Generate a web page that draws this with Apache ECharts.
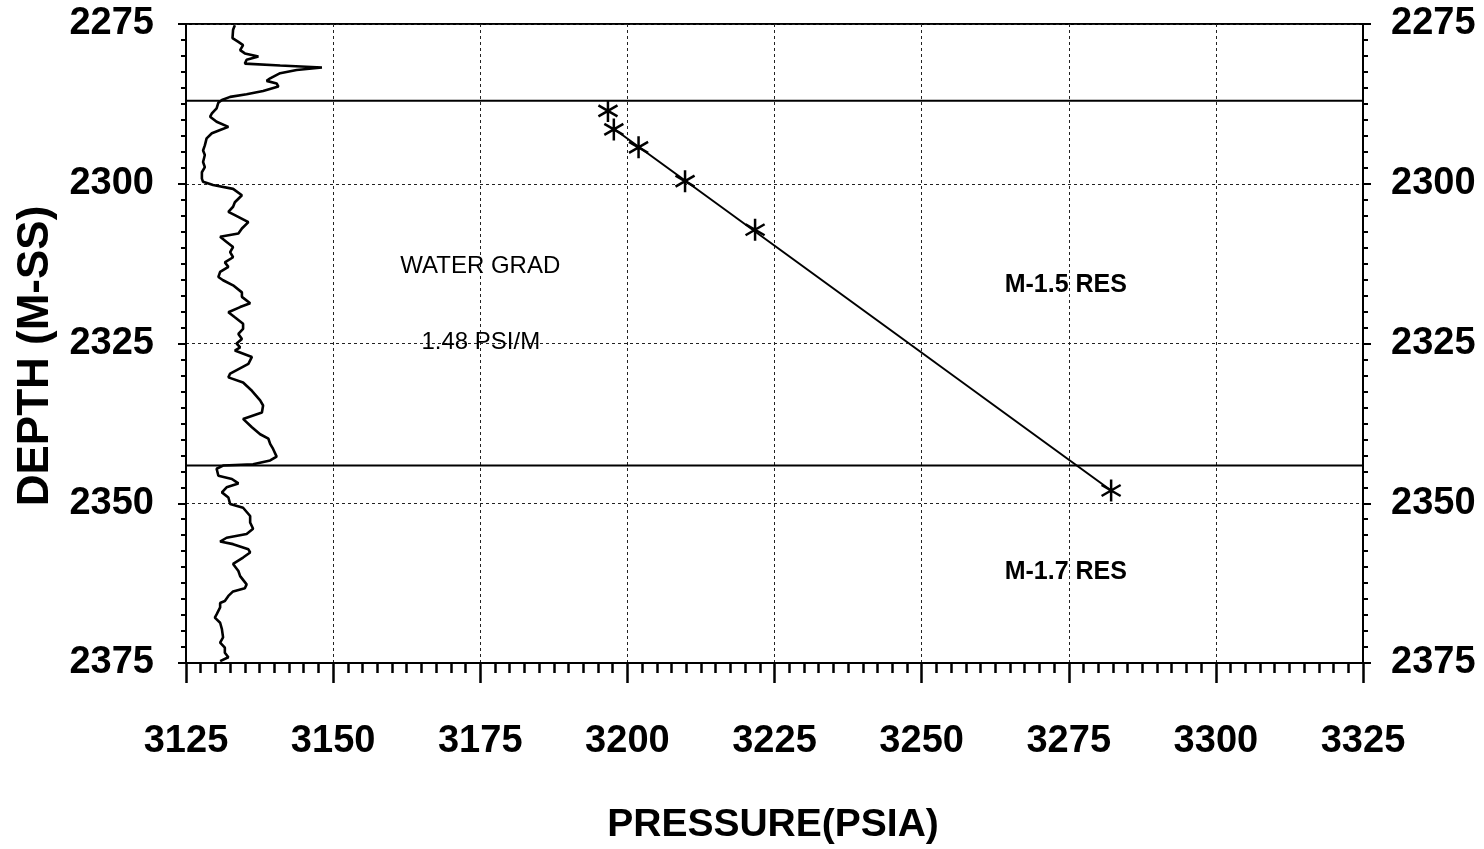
<!DOCTYPE html>
<html>
<head>
<meta charset="utf-8">
<script src="https://cdn.jsdelivr.net/npm/echarts@6/dist/echarts.min.js"></script>
<style>
html,body{margin:0;padding:0;background:#fff;}
#chart{width:1484px;height:849px;}
</style>
</head>
<body>
<div id="chart"></div>
<script>
// ---- DATA ----
const xRange = [3125, 3325];
const yRange = [2275, 2375];
const tickStep = 25;
const xAxisTitle = 'PRESSURE(PSIA)';
const yAxisTitle = 'DEPTH (M-SS)';

// RFT pressure points (psia, m-ss)
const rftPressure = [3196.7, 3197.7, 3201.9, 3209.8, 3221.7, 3282.2];
const rftDepth    = [2288.6, 2291.5, 2294.3, 2299.6, 2307.2, 2348.0];

// water gradient line end points
const gradPressure = [3197.7, 3282.2];
const gradDepth    = [2291.4, 2348.0];

// reservoir boundary depths
const boundaryDepths = [2287.0, 2344.1];

// well-log curve drawn along the left edge (pressure-scale position, depth)
const logX = [3133.3,3133.0,3132.9,3133.9,3134.7,3134.2,3135.0,3137.3,3135.3,3135.0,3141.0,3148.1,3143.8,3141.0,3139.3,3138.7,3140.4,3140.7,3138.1,3135.3,3132.5,3131.1,3130.5,3130.2,3129.4,3129.1,3130.2,3132.2,3130.8,3129.4,3128.5,3128.2,3127.9,3128.2,3127.9,3128.2,3127.7,3127.7,3127.9,3129.6,3133.0,3134.5,3133.3,3133.0,3132.2,3133.3,3135.6,3134.5,3133.9,3130.8,3131.9,3133.0,3132.5,3133.0,3131.6,3132.2,3130.8,3130.5,3131.3,3133.0,3134.5,3134.5,3135.9,3134.2,3132.2,3133.3,3134.7,3134.7,3133.9,3134.5,3133.6,3134.2,3133.3,3136.2,3135.6,3132.5,3132.2,3134.7,3136.2,3137.6,3138.1,3137.9,3134.7,3134.5,3136.2,3137.6,3139.0,3139.3,3139.8,3140.4,3139.3,3136.4,3131.3,3130.2,3130.5,3132.8,3133.9,3131.9,3131.1,3132.2,3132.5,3134.7,3135.9,3135.9,3136.4,3135.3,3131.9,3130.8,3133.0,3135.6,3135.9,3134.7,3133.0,3133.9,3134.2,3135.3,3135.0,3133.0,3132.2,3131.6,3130.8,3130.8,3130.2,3129.9,3130.8,3131.1,3131.3,3130.8,3131.6,3131.6,3132.2,3130.8];
const logDepth = [2275.2,2275.9,2277.2,2277.8,2278.3,2279.1,2279.6,2280.1,2280.6,2281.2,2281.5,2281.8,2282.2,2282.7,2283.5,2283.9,2284.3,2284.8,2285.5,2286.0,2286.4,2286.9,2287.3,2288.2,2289.0,2289.5,2290.3,2291.1,2291.6,2292.1,2292.9,2294.0,2294.8,2295.5,2296.6,2297.4,2298.2,2299.2,2299.7,2300.2,2300.8,2301.8,2302.9,2303.6,2304.4,2304.9,2306.0,2307.0,2307.8,2308.3,2309.1,2309.9,2310.7,2311.5,2312.3,2313.0,2313.8,2314.6,2315.1,2315.9,2317.0,2317.7,2318.7,2319.3,2320.1,2320.9,2321.9,2322.7,2323.5,2324.3,2325.0,2325.6,2326.1,2327.1,2328.2,2329.7,2330.3,2331.1,2332.4,2333.9,2334.7,2335.8,2336.8,2337.1,2338.1,2339.2,2339.9,2340.7,2341.5,2342.7,2343.3,2343.9,2344.1,2344.6,2345.7,2346.2,2346.9,2347.5,2348.3,2349.1,2350.1,2350.7,2352.0,2353.0,2354.0,2354.8,2355.4,2356.0,2356.4,2357.2,2357.7,2358.5,2359.5,2360.6,2361.4,2362.7,2363.3,2363.8,2364.5,2365.3,2365.6,2366.3,2367.4,2367.9,2368.7,2369.7,2371.0,2371.8,2372.6,2373.4,2374.1,2374.7];

// text annotations
const noteText     = ['WATER GRAD', '1.48 PSI/M', 'M-1.5 RES', 'M-1.7 RES'];
const notePressure = [3175.0, 3175.1, 3274.5, 3274.5];
const noteDepth    = [2313.0, 2324.9, 2315.8, 2360.7];
const noteBold     = [false, false, true, true];

// ---- CHART ----
const zip = (a, b) => a.map((v, i) => [v, b[i]]);
const chart = echarts.init(document.getElementById('chart'), null, {renderer: 'canvas'});

const FONT = "'Liberation Sans', Arial, sans-serif";
const tickFont = {fontFamily: FONT, fontWeight: 'bold', fontSize: 38, color: '#000', formatter: v => String(v)};
const gridLine = {show: true, lineStyle: {color: '#222', width: 1, type: [3, 3]}};
const asterisk = 'path://M0,-10L0,10M-8.66,-5L8.66,5M-8.66,5L8.66,-5';

const yAxisCommon = {
  type: 'value', inverse: true, min: yRange[0], max: yRange[1], interval: tickStep,
  axisLine: {show: true, lineStyle: {color: '#000', width: 2}},
  axisTick: {show: true, length: 8, lineStyle: {color: '#000', width: 2}},
  minorTick: {show: true, splitNumber: 10, length: 5, lineStyle: {color: '#000', width: 2}},
  splitLine: {show: false}
};

const seriesList = [
  {
    type: 'line', name: 'log', data: zip(logX, logDepth), showSymbol: false, symbol: 'none',
    lineStyle: {color: '#000', width: 2.6}, silent: true, z: 3
  },
  ...boundaryDepths.map(d => ({
    type: 'line', data: [[xRange[0], d], [xRange[1], d]], showSymbol: false, symbol: 'none',
    lineStyle: {color: '#000', width: 2}, silent: true, z: 4
  })),
  {
    type: 'line', name: 'gradient', data: zip(gradPressure, gradDepth), showSymbol: false, symbol: 'none',
    lineStyle: {color: '#000', width: 2}, silent: true, z: 5
  },
  {
    type: 'scatter', name: 'rft', data: zip(rftPressure, rftDepth), symbol: asterisk, symbolSize: 22,
    symbolKeepAspect: true,
    itemStyle: {color: 'rgba(0,0,0,0)', borderColor: '#000', borderWidth: 2.5, opacity: 1}, z: 6
  },
  {
    type: 'scatter', name: 'notes', symbolSize: 0, silent: true, z: 7,
    itemStyle: {opacity: 1},
    data: noteText.map((t, i) => ({
      value: [notePressure[i], noteDepth[i]],
      label: {show: true, position: 'inside', formatter: t, fontFamily: FONT,
        fontWeight: noteBold[i] ? 'bold' : 'normal', fontSize: noteBold[i] ? 25 : 24,
        color: '#000', opacity: 1, textBorderWidth: 0}
    }))
  }
];

chart.setOption({
  animation: false,
  backgroundColor: '#fff',
  grid: {left: 186, right: 121, top: 24, bottom: 186, containLabel: false, outerBoundsMode: 'none',
    show: true, borderColor: '#000', borderWidth: 2, backgroundColor: 'transparent'},
  xAxis: {
    type: 'value', min: xRange[0], max: xRange[1], interval: tickStep, position: 'bottom',
    axisLine: {show: true, onZero: false, lineStyle: {color: '#000', width: 2}},
    axisTick: {show: true, length: 20, lineStyle: {color: '#000', width: 2.5}},
    minorTick: {show: true, splitNumber: 10, length: 10, lineStyle: {color: '#000', width: 2.5}},
    axisLabel: Object.assign({margin: 60}, tickFont),
    splitLine: gridLine
  },
  yAxis: [
    Object.assign({}, yAxisCommon, {position: 'left', splitLine: gridLine,
      axisLabel: Object.assign({margin: 32}, tickFont)}),
    Object.assign({}, yAxisCommon, {position: 'right',
      axisLabel: Object.assign({margin: 28}, tickFont)})
  ],
  graphic: [
    {type: 'text', x: 36, y: 356, rotation: Math.PI / 2,
      style: {text: yAxisTitle, x: 0, y: 0, align: 'center', verticalAlign: 'middle',
        font: "bold 44px " + FONT, fill: '#000'}},
    {type: 'text', x: 773, y: 825,
      style: {text: xAxisTitle, x: 0, y: 0, align: 'center', verticalAlign: 'middle',
        font: "bold 39px " + FONT, fill: '#000'}}
  ],
  series: seriesList
});
</script>
</body>
</html>
